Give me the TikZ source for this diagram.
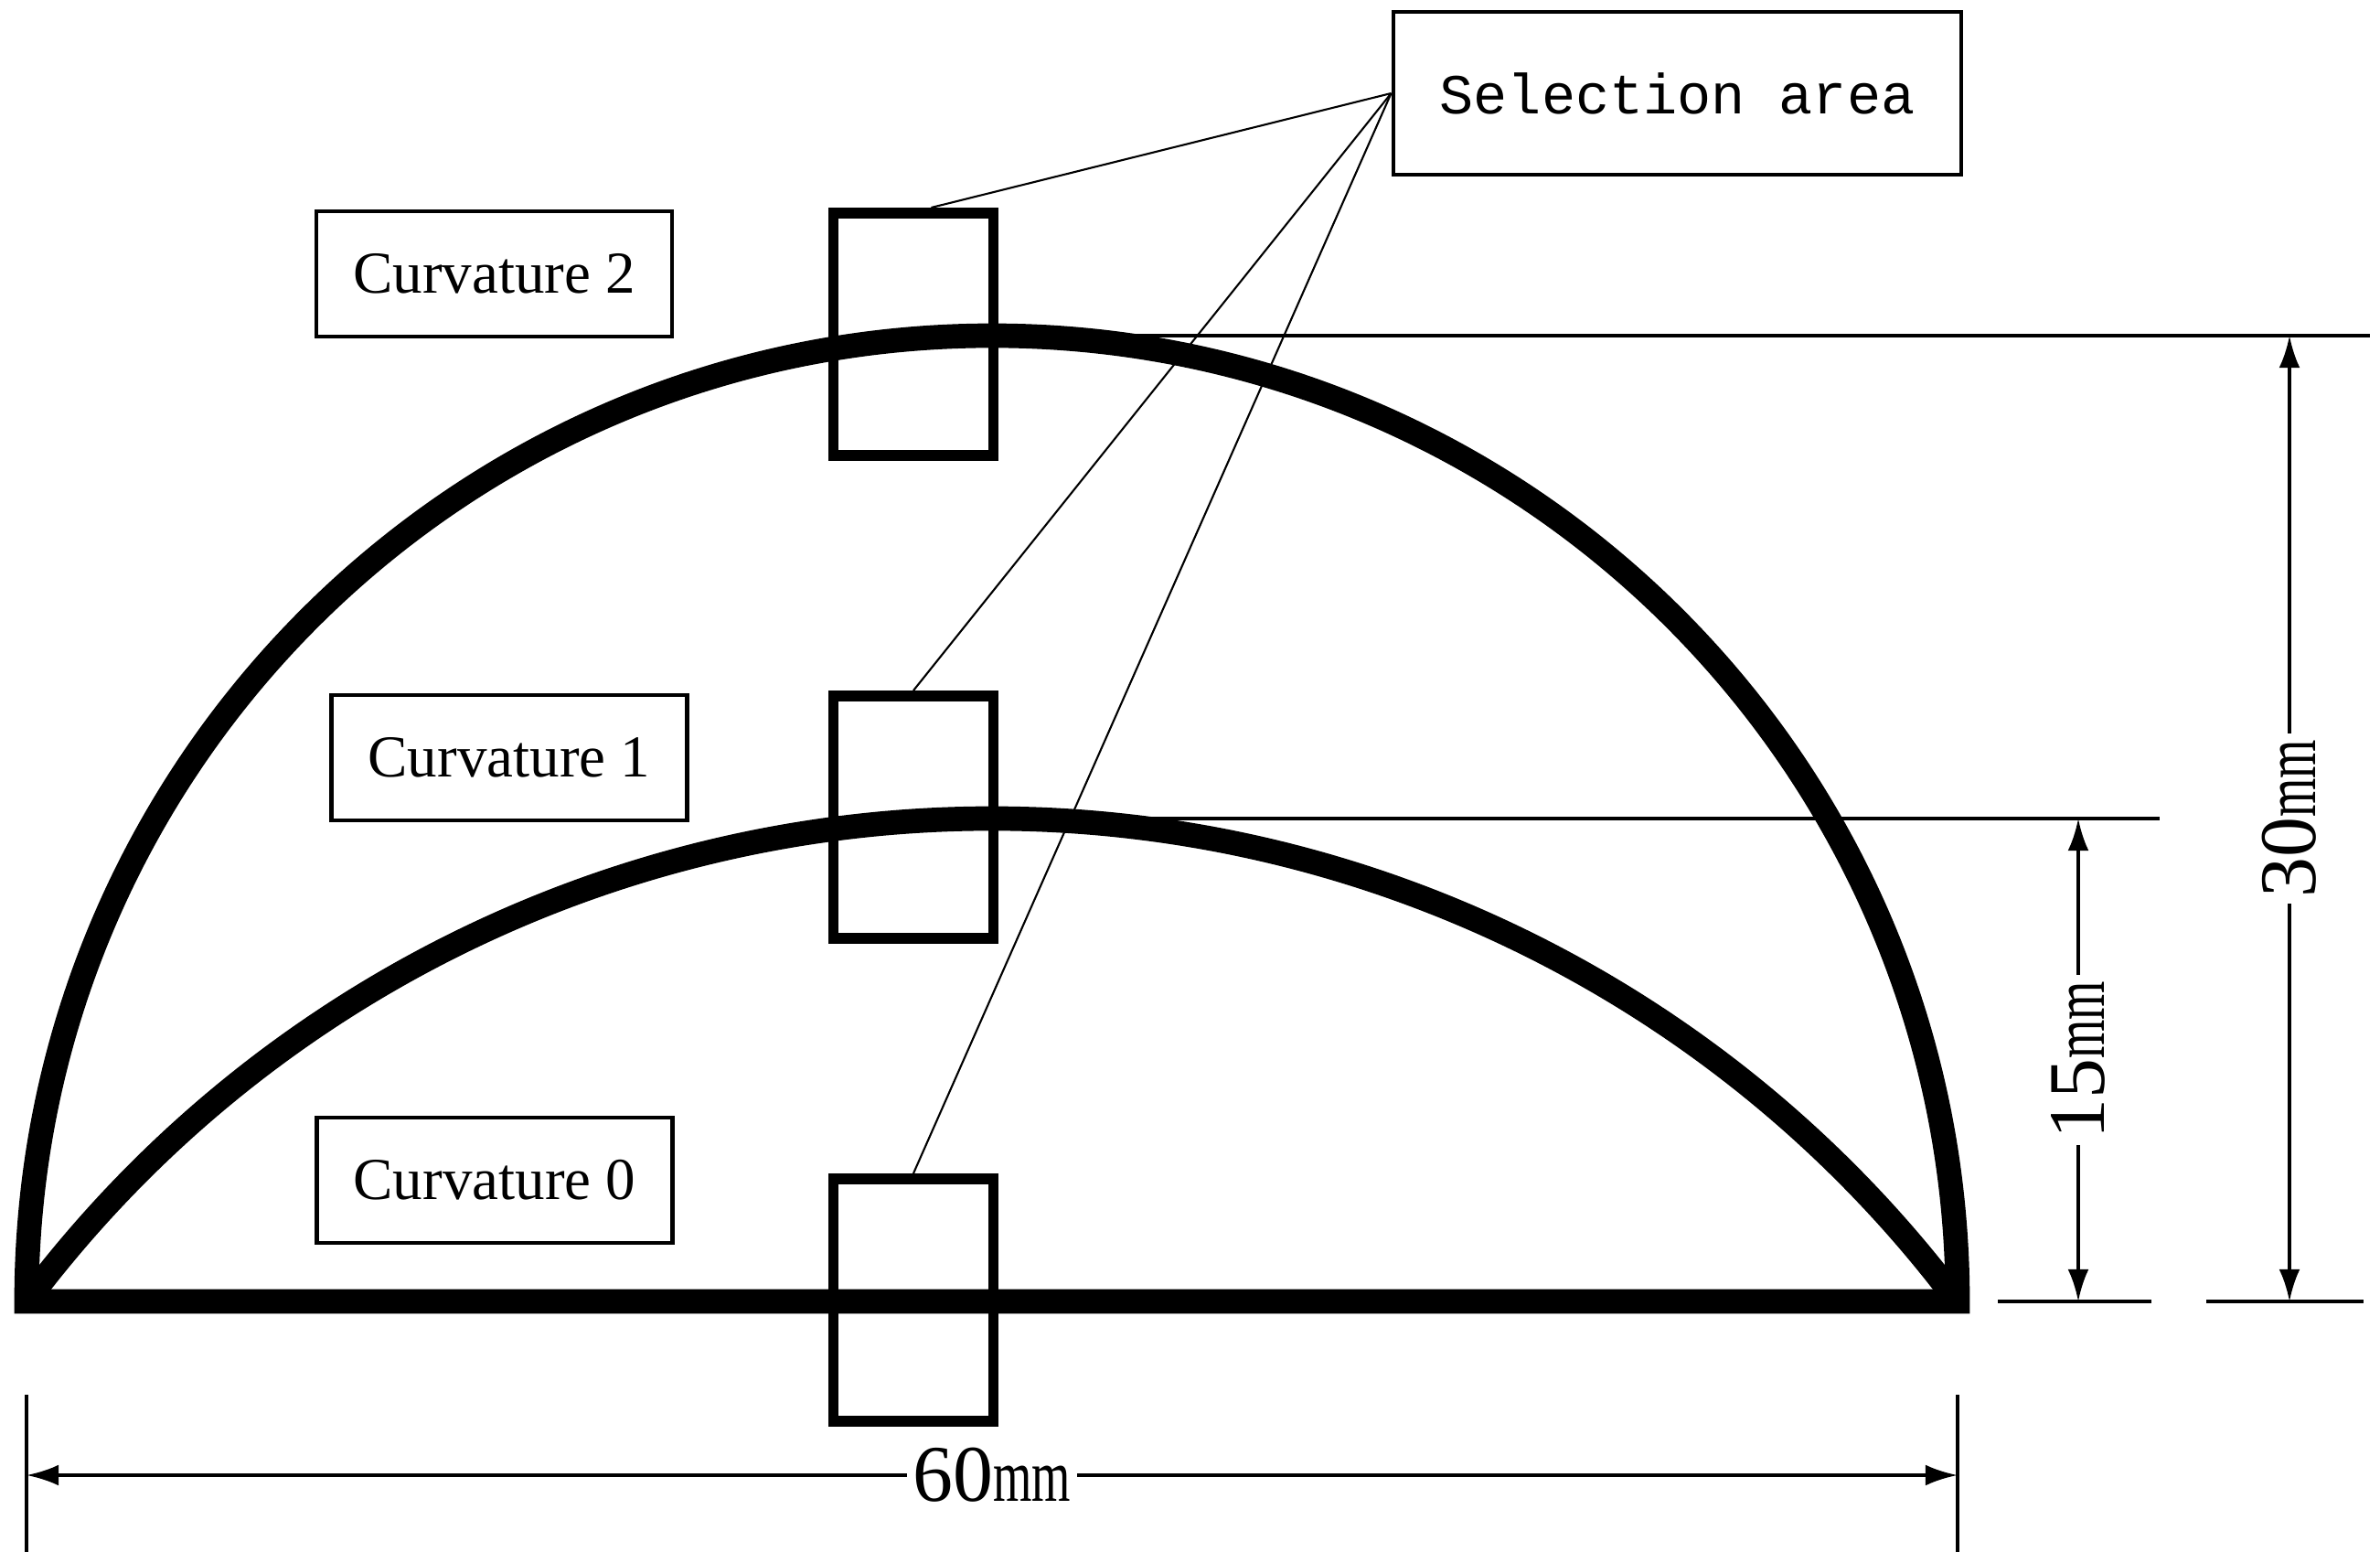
\documentclass[tikz,border=0pt]{standalone}
\usepackage{fontspec}
\usepackage{graphicx}
\setmainfont{Liberation Serif}
\setmonofont{Liberation Mono}
\usetikzlibrary{arrows.meta}

% Unidade das cotas (mm estreito)
\newcommand{\unidade}{\scalebox{1}[1.5]{\fontsize{15.5}{16}\selectfont mm}}

\begin{document}
\begin{tikzpicture}[
        rotulo/.style={draw, line width=1.4pt, minimum width=3.89cm, minimum height=1.37cm, inner sep=0pt, font=\fontsize{18.5}{20}\selectfont},
        janela/.style={draw, line width=3.4pt, minimum width=1.75cm, minimum height=2.65cm, inner sep=0pt},
        cota/.style={line width=1.1pt, {Latex[length=10pt,width=6.5pt]}-{Latex[length=10pt,width=6.5pt]}},
        guia/.style={line width=1pt},
        valor/.style={fill=white, inner sep=2pt, font=\fontsize{25}{26}\selectfont}
    ]
        % Moldura da figura
        \useasboundingbox (0,0) rectangle (26.03,17.08);

        % Perfis: semicírculo (curvatura 2), arco (curvatura 1) e base (curvatura 0)
        \draw[line width=7.6pt] (0.29,2.85) arc[start angle=180, end angle=0, radius=10.56] -- cycle;
        \draw[line width=7.6pt] (0.29,2.85) arc[start angle=143.13, end angle=36.87, radius=13.20];

        % Pontos de referência das cotas
        \coordinate (topo2) at (10.85,13.41);
        \coordinate (topo1) at (10.85,8.13);
        \coordinate (fim2) at (25.92,13.41);
        \coordinate (fim1) at (23.62,8.13);
        \coordinate (esq) at (0.29,0.95);
        \coordinate (dir) at (21.41,0.95);

        % Janelas de seleção e rótulos de curvatura
        \foreach \y/\ly/\lx [count=\i from 0] in {2.865/4.175/5.41, 8.145/8.795/5.57, 13.425/14.085/5.405} {
            \node[janela] (janela\i) at (9.99,\y) {};
            \node[rotulo] (curv\i) at (\lx,\ly) {Curvature \i};
        }

        % Legenda e linhas de chamada
        \node[draw, line width=1.4pt, minimum width=6.21cm, minimum height=1.78cm, font=\ttfamily\fontsize{17.6}{19}\selectfont] (selecao) at (18.345,16.06) {Selection area};
        \foreach \i/\a in {0/north, 1/north, 2/82}
            \draw[line width=0.6pt] (selecao.west) -- (janela\i.\a);

        % Linhas de extensão
        \draw[guia] (topo2) -- (fim2);
        \draw[guia] (topo1) -- (fim1);
        \draw[guia] (21.85,2.85) -- (23.53,2.85);
        \draw[guia] (24.13,2.85) -- (25.85,2.85);
        \draw[guia] (0.29,0.11) -- (0.29,1.83);
        \draw[guia] (21.41,0.11) -- (21.41,1.83);

        % Cotas
        \draw[cota] (22.73,2.85) -- node[valor, rotate=90] {15\unidade} (22.73,8.13);
        \draw[cota] (25.04,2.85) -- node[valor, rotate=90] {30\unidade} (25.04,13.41);
        \draw[cota] (esq) -- node[valor] {60\unidade} (dir);
    \end{tikzpicture}
\end{document}
